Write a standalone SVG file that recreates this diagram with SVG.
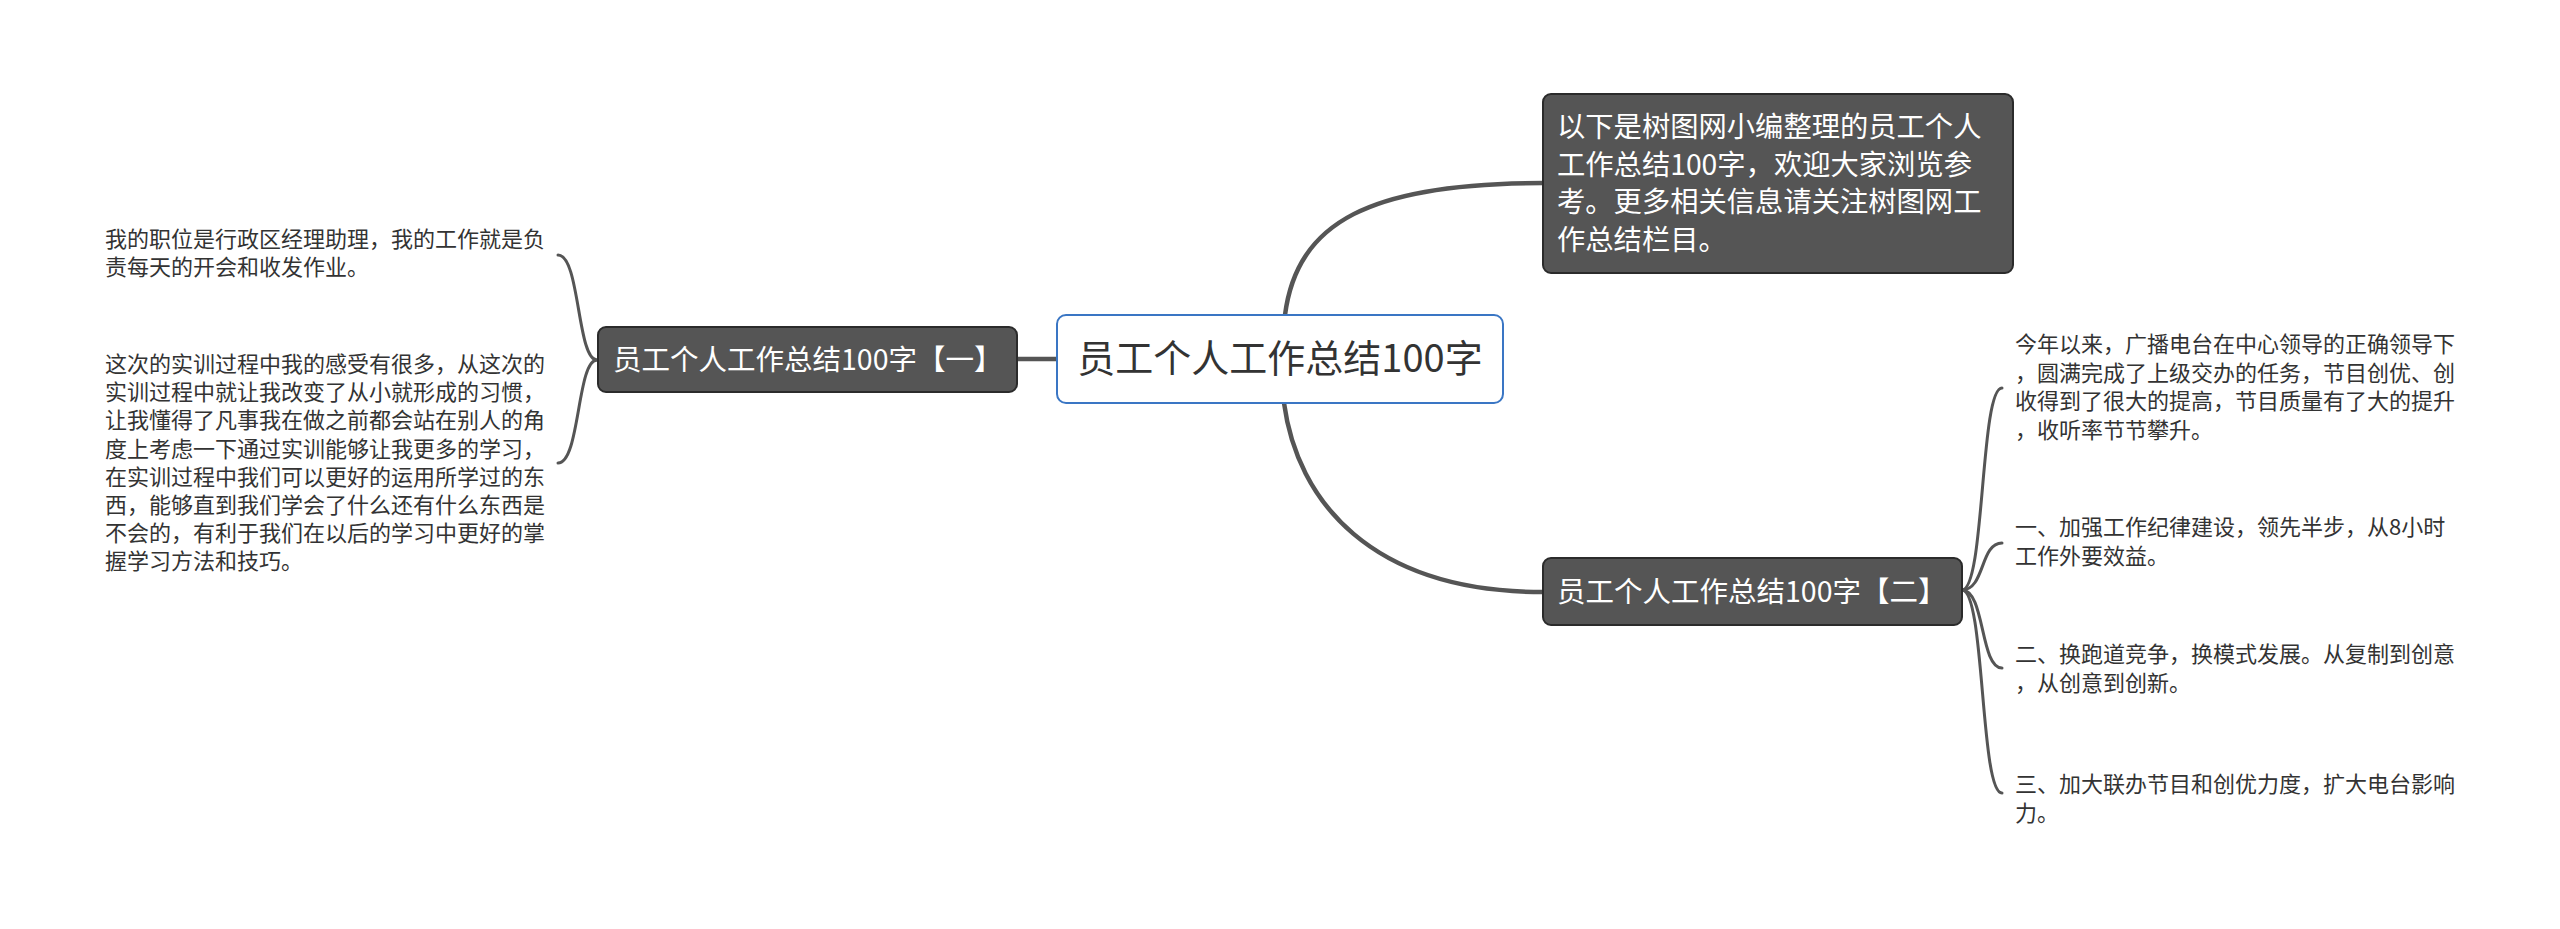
<svg xmlns="http://www.w3.org/2000/svg" width="2560" height="929" viewBox="0 0 2560 929">
<style>
.t{font-family:"Microsoft YaHei","Noto Sans CJK SC","Noto Sans",sans-serif;}
.leaf{font-size:22px;fill:#333;}
.dark{fill:#555;stroke:#2b2b2b;stroke-width:2;}
.wt{fill:#fff;}
.c{fill:none;stroke:#555;stroke-linecap:round;}
</style>
<rect width="2560" height="929" fill="#fff"/>
<g id="connectors">
<path class="c" stroke-width="4.5" d="M1017,359 L1057,359"/>
<path class="c" stroke-width="4.5" d="M1285,315 C1297,222 1370,183 1543,183"/>
<path class="c" stroke-width="4.5" d="M1284,403 C1297,500 1370,592 1543,592"/>
<path class="c" stroke-width="3" d="M597,360 C577,360 580,255 558,255"/>
<path class="c" stroke-width="3" d="M597,360 C577,360 580,463 558,463"/>
<path class="c" stroke-width="3" d="M1962,590 C1985,590 1980,388 2002,388"/>
<path class="c" stroke-width="3" d="M1962,590 C1985,590 1980,543 2002,543"/>
<path class="c" stroke-width="3" d="M1962,590 C1985,590 1980,668 2002,668"/>
<path class="c" stroke-width="3" d="M1962,590 C1985,590 1980,793 2002,793"/>
</g>
<g id="root">
<rect x="1057" y="315" width="446" height="88" rx="9" fill="#fff" stroke="#3a76c4" stroke-width="2"/>
<text class="t" x="1280" y="372" font-size="38" fill="#333" text-anchor="middle">员工个人工作总结100字</text>
</g>
<g id="intro">
<rect class="dark" x="1543" y="94" width="470" height="179" rx="8"/>
<text class="t wt" font-size="28.3" x="1557" y="137">以下是树图网小编整理的员工个人</text>
<text class="t wt" font-size="28.3" x="1557" y="174.5">工作总结100字，欢迎大家浏览参</text>
<text class="t wt" font-size="28.3" x="1557" y="212">考。更多相关信息请关注树图网工</text>
<text class="t wt" font-size="28.3" x="1557" y="249.5">作总结栏目。</text>
</g>
<g id="branch1">
<rect class="dark" x="598" y="327" width="419" height="65" rx="8"/>
<text class="t wt" font-size="28.5" x="613" y="369.5">员工个人工作总结100字【一】</text>
</g>
<g id="branch2">
<rect class="dark" x="1543" y="558" width="419" height="67" rx="8"/>
<text class="t wt" font-size="28.5" x="1557" y="601.5">员工个人工作总结100字【二】</text>
</g>
<g id="leaf1a">
<text class="t leaf" x="105" y="247">我的职位是行政区经理助理，我的工作就是负</text>
<text class="t leaf" x="105" y="275">责每天的开会和收发作业。</text>
</g>
<g id="leaf1b">
<text class="t leaf" x="105" y="372">这次的实训过程中我的感受有很多，从这次的</text>
<text class="t leaf" x="105" y="400">实训过程中就让我改变了从小就形成的习惯，</text>
<text class="t leaf" x="105" y="428">让我懂得了凡事我在做之前都会站在别人的角</text>
<text class="t leaf" x="105" y="456.5">度上考虑一下通过实训能够让我更多的学习，</text>
<text class="t leaf" x="105" y="484.5">在实训过程中我们可以更好的运用所学过的东</text>
<text class="t leaf" x="105" y="512.5">西，能够直到我们学会了什么还有什么东西是</text>
<text class="t leaf" x="105" y="541">不会的，有利于我们在以后的学习中更好的掌</text>
<text class="t leaf" x="105" y="569">握学习方法和技巧。</text>
</g>
<g id="leaf2a">
<text class="t leaf" x="2015" y="352">今年以来，广播电台在中心领导的正确领导下</text>
<text class="t leaf" x="2015" y="380.5">，圆满完成了上级交办的任务，节目创优、创</text>
<text class="t leaf" x="2015" y="409">收得到了很大的提高，节目质量有了大的提升</text>
<text class="t leaf" x="2015" y="437.5">，收听率节节攀升。</text>
</g>
<g id="leaf2b">
<text class="t leaf" x="2015" y="535">一、加强工作纪律建设，领先半步，从8小时</text>
<text class="t leaf" x="2015" y="563.5">工作外要效益。</text>
</g>
<g id="leaf2c">
<text class="t leaf" x="2015" y="662">二、换跑道竞争，换模式发展。从复制到创意</text>
<text class="t leaf" x="2015" y="690.5">，从创意到创新。</text>
</g>
<g id="leaf2d">
<text class="t leaf" x="2015" y="792">三、加大联办节目和创优力度，扩大电台影响</text>
<text class="t leaf" x="2015" y="820.5">力。</text>
</g>
</svg>
